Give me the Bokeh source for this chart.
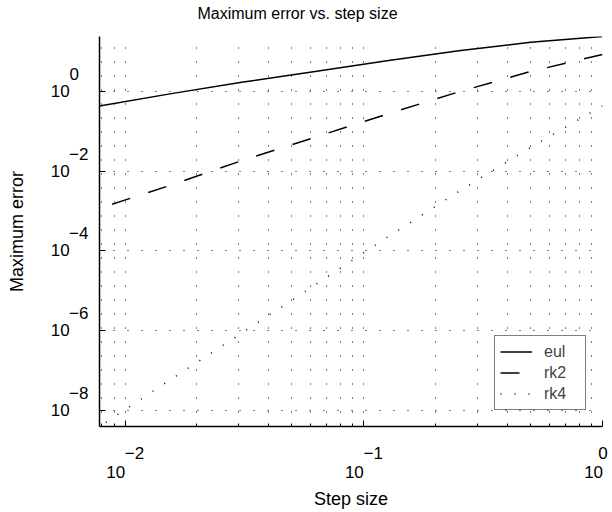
from bokeh.plotting import figure
from bokeh.models import (Range1d, FixedTicker, Legend, LegendItem, CustomJSTickFormatter, Title)
from bokeh.embed import file_html
from bokeh.resources import INLINE

# ---- data ----
h = [1.0, 0.5, 0.25, 0.125, 0.0625, 0.03125, 0.015625, 0.0078125]
eul = [24.3, 17.5, 10.6, 6.01, 3.23, 1.74, 0.893, 0.438]
rk2 = [8.61, 3.21, 0.989, 0.273, 0.0716, 0.0191, 0.00453, 0.00117]
rk4 = [0.438, 0.0401, 0.00311, 2.19e-4, 1.40e-5, 9.12e-7, 6.03e-8, 3.89e-9]
series_names = ["eul", "rk2", "rk4"]

x_major = [1e-2, 1e-1, 1e0]
x_major_exp = ["\u22122", "\u22121", "0"]
x_minor = [8e-3, 9e-3] + [k * 1e-2 for k in range(2, 10)] + [k * 1e-1 for k in range(2, 10)]
y_major = [1e-8, 1e-6, 1e-4, 1e-2, 1e0]
y_major_exp = ["\u22128", "\u22126", "\u22124", "\u22122", "0"]

title_text = "Maximum error vs. step size"
x_label_text = "Step size"
y_label_text = "Maximum error"

FONT = "Liberation Sans"
FS = "\u2007"  # figure space, used to shift the exponent beside the base "10"

xmin, xmax = min(h), max(h)
ymin, ymax = min(rk4), max(eul)

p = figure(width=612, height=512, x_axis_type="log", y_axis_type="log",
           x_range=Range1d(xmin, xmax), y_range=Range1d(ymin, ymax),
           output_backend="svg", toolbar_location=None,
           min_border_left=99, min_border_right=10,
           min_border_top=36, min_border_bottom=79)
p.outline_line_color = None
p.background_fill_color = "white"
p.border_fill_color = "white"

# tick labels: exponent raised to the right of "10"
x_labels = []
for ex in x_major_exp:
    if len(ex) == 1:
        x_labels.append(FS + ex + "\n10" + FS)
    else:
        x_labels.append(FS * 2 + ex + "\n10" + FS * 2)
y_labels = []
for ex in y_major_exp:
    pad = FS if len(ex) == 1 else ""
    y_labels.append(ex + pad + "\n10" + FS * 2 + "\n" + FS)

js = """
const e = Math.round(Math.log10(tick));
for (let i = 0; i < exps.length; i++) { if (exps[i] == e) { return labels[i]; } }
return "";
"""
p.xaxis.formatter = CustomJSTickFormatter(args=dict(exps=[-2, -1, 0], labels=x_labels), code=js)
p.yaxis.formatter = CustomJSTickFormatter(args=dict(exps=[-8, -6, -4, -2, 0], labels=y_labels), code=js)

p.xaxis.ticker = FixedTicker(ticks=x_major, minor_ticks=x_minor)
p.yaxis.ticker = FixedTicker(ticks=y_major, minor_ticks=[])
for ax in (p.xaxis, p.yaxis):
    ax.major_label_text_font = FONT
    ax.major_label_text_font_size = "17px"
    ax.major_label_text_color = "black"
    ax.major_tick_in = 6
    ax.major_tick_out = 0
    ax.minor_tick_in = 3
    ax.minor_tick_out = 0
    ax.axis_line_width = 1.5
    ax.axis_line_color = "black"
    ax.major_tick_line_color = "black"
    ax.minor_tick_line_color = "black"
    ax.axis_label_text_font = FONT
    ax.axis_label_text_font_size = "18px"
    ax.axis_label_text_font_style = "normal"
    ax.axis_label_text_color = "black"

p.xaxis.major_label_text_line_height = 1.05
p.xaxis.major_label_standoff = 17
p.xaxis.axis_label = x_label_text
p.xaxis.axis_label_standoff = 4

p.yaxis.major_label_text_line_height = 0.9
p.yaxis.major_label_standoff = 11
p.yaxis.axis_label = y_label_text
p.yaxis.axis_label_standoff = 21

# real title; a small invisible spacer title sits between it and the frame
p.title.text = title_text
p.title.align = "left"
p.title.offset = 98
p.title.standoff = 3
p.title.text_font = FONT
p.title.text_font_size = "16px"
p.title.text_font_style = "normal"
p.title.text_color = "black"
p.add_layout(Title(text=FS, standoff=0, text_font=FONT, text_font_size="10px",
                   text_font_style="normal"), "above")

p.xgrid.grid_line_color = "black"
p.xgrid.grid_line_dash = "1 13"
p.xgrid.minor_grid_line_color = "black"
p.xgrid.minor_grid_line_dash = "1 13"
p.ygrid.grid_line_color = "black"
p.ygrid.grid_line_dash = "1 13"

r1 = p.line(h, eul, line_color="black", line_width=1.5)
r2 = p.line(h, rk2, line_color="black", line_width=1.5, line_dash="19 19")
r3 = p.line(h, rk4, line_color="black", line_width=1.5, line_dash="1 13")

legend = Legend(items=[LegendItem(label=n, renderers=[r]) for n, r in zip(series_names, [r1, r2, r3])],
                location="bottom_right", margin=16, padding=5, spacing=0,
                glyph_width=32, glyph_height=21, label_height=21, label_width=36,
                label_standoff=12, label_text_font=FONT, label_text_font_size="16px",
                border_line_color="black", border_line_width=1.5,
                background_fill_color="white", background_fill_alpha=1.0)
p.add_layout(legend)

open("out.html", "w").write(file_html(p, INLINE))
